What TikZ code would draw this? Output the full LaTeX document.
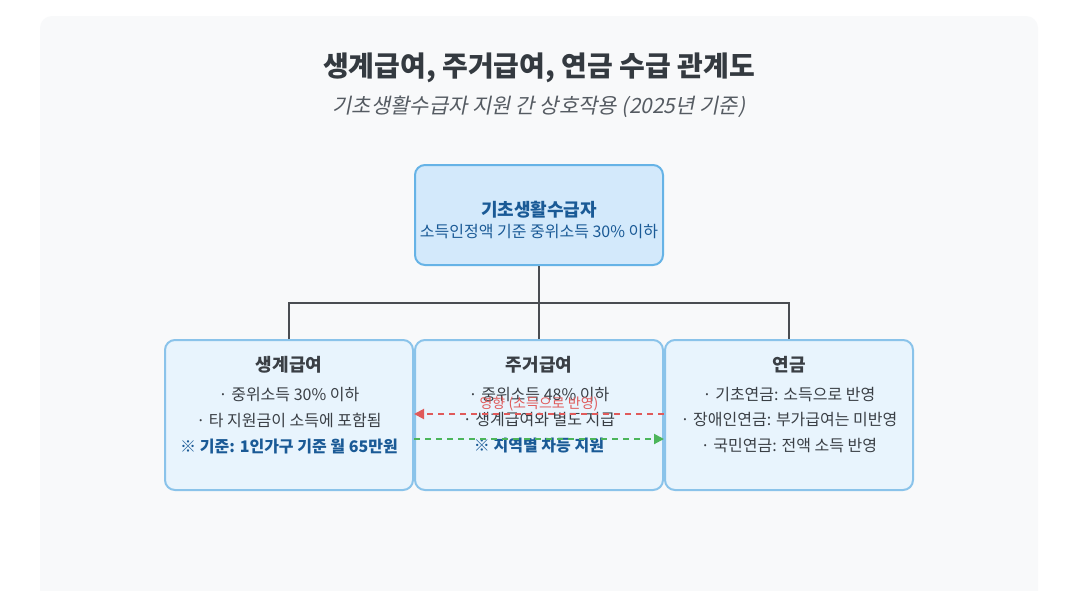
\documentclass[tikz,border=0pt]{standalone}
\usepackage{fontspec}
\setmainfont{Noto Sans CJK KR}
\newfontfamily\subfont[FakeSlant=0.2]{Noto Sans CJK KR}
\usepackage{tikz}
\usetikzlibrary{positioning}
\usetikzlibrary{shapes,arrows,calc,arrows.meta}

\definecolor{panelbg}{HTML}{F8F9FA}
\definecolor{titlecol}{HTML}{343A40}
\definecolor{subcol}{HTML}{555B62}
\definecolor{topfill}{HTML}{D3E9FB}
\definecolor{topline}{HTML}{66B3E6}
\definecolor{boxfill}{HTML}{E8F4FD}
\definecolor{boxline}{HTML}{8AC3EA}
\definecolor{darkblue}{HTML}{1A5A96}
\definecolor{textcol}{HTML}{3A3F45}
\definecolor{treecol}{HTML}{4A4D52}
\definecolor{redarr}{HTML}{E05A5A}
\definecolor{greenarr}{HTML}{4CB55A}

\begin{document}
\begin{tikzpicture}[x=1pt,y=-1pt,
  topbox/.style={draw=topline, fill=topfill, line width=2pt, rounded corners=10pt,
    minimum width=248pt, minimum height=100pt},
  subbox/.style={draw=boxline, fill=boxfill, line width=2pt, rounded corners=10pt,
    minimum width=248pt, minimum height=150pt},
  boxtitle/.style={font=\fontsize{18}{21}\selectfont\bfseries, text=textcol},
  boxline/.style={font=\fontsize{16}{19}\selectfont, text=textcol},
  boxnote/.style={font=\fontsize{16}{19}\selectfont\bfseries, text=darkblue},
  tree/.style={draw=treecol, line width=2pt},
  link/.style={dashed, dash pattern=on 6pt off 5pt, line width=2pt}
]
  % Page and background panel
  \useasboundingbox (0,0) rectangle (1077,590);
  \fill[white] (0,0) rectangle (1077,590);
  \fill[panelbg, rounded corners=12pt] (40,16) rectangle (1038,620);

  % Title and subtitle
  \node[font=\fontsize{28}{32}\selectfont\bfseries, text=titlecol] (title) at (539,68)
    {생계급여, 주거급여, 연금 수급 관계도};
  \node[font=\fontsize{21}{25}\selectfont\subfont, text=subcol] (subtitle) at (539,107)
    {기초생활수급자 지원 간 상호작용 (2025년 기준)};

  % Top box
  \node[topbox] (recip) at (539,215) {};
  \node[font=\fontsize{18}{21}\selectfont\bfseries, text=darkblue] (recipname) at (539,210) {기초생활수급자};
  \node[font=\fontsize{16}{19}\selectfont, text=darkblue] (recipnote) at (539,232) {소득인정액 기준 중위소득 30\% 이하};

  % Three lower boxes
  \node[subbox] (living) at (289,415) {};
  \node[subbox] (housing) at (539,415) {};
  \node[subbox] (pension) at (789,415) {};

  % Tree connector
  \coordinate (branch) at (539,303);
  \draw[tree] (recip.south) -- (branch);
  \draw[tree] (living.north) |- (branch) -| (pension.north);
  \draw[tree] (branch) -- (housing.north);

  % Left box text
  \node[boxtitle] (livingname) at (289,365) {생계급여};
  \node[boxline] (living1) at (289,395) {· 중위소득 30\% 이하};
  \node[boxline] (living2) at (289,420) {· 타 지원금이 소득에 포함됨};
  \node[boxnote] (living3) at (289,446) {※ 기준: 1인가구 기준 월 65만원};

  % Middle box text
  \node[boxtitle] (housingname) at (539,365) {주거급여};
  \node[boxline] (housing1) at (539,395) {· 중위소득 48\% 이하};
  \node[boxline] (housing2) at (539,420) {· 생계급여와 별도 지급};
  \node[boxnote] (housing3) at (539,446) {※ 지역별 차등 지원};

  % Right box text
  \node[boxtitle] (pensionname) at (789,365) {연금};
  \node[boxline] (pension1) at (789,395) {· 기초연금: 소득으로 반영};
  \node[boxline] (pension2) at (789,420) {· 장애인연금: 부가급여는 미반영};
  \node[boxline] (pension3) at (789,446) {· 국민연금: 전액 소득 반영};

  % Dashed links across the middle box
  \coordinate (redstart) at (pension.west |- 0,414);
  \coordinate (redend) at (housing.west |- 0,414);
  \draw[link, draw=redarr, -{Triangle[length=10pt,width=10pt]}] (redstart) -- (redend);
  \node[font=\fontsize{14}{16}\selectfont, text=redarr] (redlabel) at (539,404) {영향 (소득으로 반영)};
  \coordinate (greenstart) at (living.east |- 0,439);
  \coordinate (greenend) at (housing.east |- 0,439);
  \draw[link, draw=greenarr, -{Triangle[length=10pt,width=10pt]}] (greenstart) -- (greenend);
\end{tikzpicture}
\end{document}
